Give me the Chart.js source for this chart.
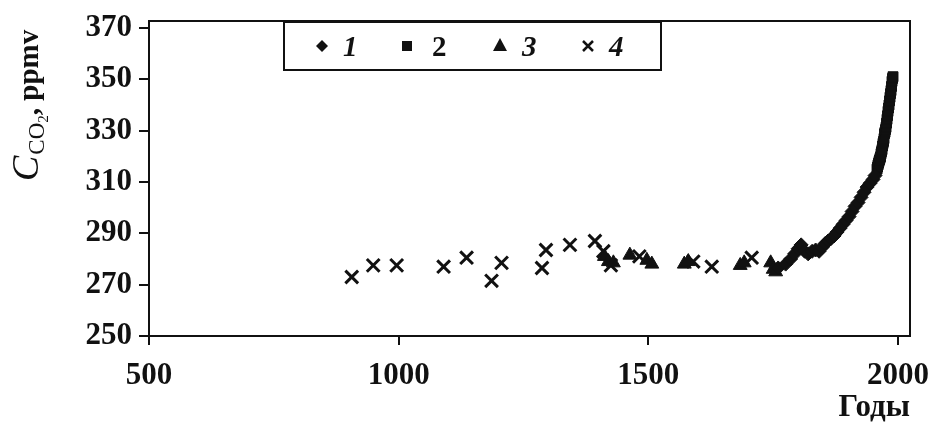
<!DOCTYPE html>
<html><head><meta charset="utf-8">
<script src="https://cdn.jsdelivr.net/npm/chart.js@4.4.0/dist/chart.umd.min.js"></script>
<style>html,body{margin:0;padding:0;background:#fff;overflow:hidden}canvas{display:block}</style>
</head><body>
<canvas id="c" width="933" height="427"></canvas>
<script>
// ---- data ----
const xTicks = [500, 1000, 1500, 2000];
const yTicks = [250, 270, 290, 310, 330, 350, 370];
const legendLabels = ['1', '2', '3', '4'];
const xTitle = 'Годы';

const s1Years  = [1760, 1775, 1785, 1793, 1800, 1806, 1813, 1820, 1828, 1835, 1842, 1848, 1854, 1860, 1866, 1872, 1878, 1884, 1890, 1896, 1902, 1908, 1914, 1920, 1926, 1932, 1938, 1944, 1950, 1954];
const s1Values = [276.5, 278, 280, 282, 284, 285.5, 283, 282, 283, 283.5, 283, 284.5, 286, 287, 288, 289, 290.5, 292, 293.5, 295, 296.5, 298.5, 300.5, 302, 304, 306, 308, 309.5, 311, 312.5];

const s2Years  = [1958, 1959, 1960, 1961, 1962, 1963, 1964, 1965, 1966, 1967, 1968, 1969, 1970, 1971, 1972, 1973, 1974, 1975, 1976, 1977, 1978, 1979, 1980, 1981, 1982, 1983, 1984, 1985, 1986, 1987, 1988, 1989, 1990];
const s2Values = [315, 315.8, 316.6, 317.3, 318, 318.6, 319.2, 319.8, 321, 321.8, 322.6, 324, 325, 325.8, 326.9, 328.8, 329.4, 330.4, 331.3, 332.9, 334.4, 335.8, 337.5, 338.8, 340, 341.6, 343, 344.4, 345.6, 347.2, 349.2, 350.3, 351];

const s3Years  = [1412, 1420, 1430, 1463, 1497, 1507, 1572, 1580, 1684, 1692, 1745, 1750, 1755];
const s3Values = [281, 279, 278.5, 281.5, 279.5, 278, 278, 279, 277.5, 278.5, 278.5, 276, 275];

const s4Years  = [906, 949, 996, 1090, 1136, 1186, 1206, 1287, 1295, 1343, 1393, 1410, 1425, 1482, 1590, 1627, 1707];
const s4Values = [273, 277.5, 277.5, 277, 280.5, 271.5, 278.5, 276.5, 283.5, 285.5, 287, 283, 277.5, 281, 279, 277, 280.5];

// ---- helpers ----
function pts(xs, ys) { return xs.map((x, i) => ({x: x, y: ys[i]})); }
const SERIF = '"Liberation Serif", "Times New Roman", serif';

const frameAndLegend = {
  id: 'frameAndLegend',
  afterDraw(chart) {
    const ctx = chart.ctx, a = chart.chartArea;
    ctx.save();
    ctx.strokeStyle = '#111';
    ctx.lineWidth = 2;
    ctx.strokeRect(a.left, a.top, a.right - a.left, a.bottom - a.top);

    // legend box
    ctx.strokeRect(284, 22, 377, 48);
    const ly = 46;
    const markX = [322, 407, 500, 588];
    const textX = [343, 432, 522, 609];
    chart.data.datasets.forEach((ds, i) => {
      ctx.fillStyle = '#111'; ctx.strokeStyle = '#111';
      const x = markX[i];
      ctx.beginPath();
      if (ds.pointStyle === 'rectRot') {
        ctx.moveTo(x, ly - 6); ctx.lineTo(x + 6, ly); ctx.lineTo(x, ly + 6); ctx.lineTo(x - 6, ly); ctx.closePath(); ctx.fill();
      } else if (ds.pointStyle === 'rect') {
        ctx.fillRect(x - 5, ly - 5, 10, 10);
      } else if (ds.pointStyle === 'triangle') {
        ctx.moveTo(x, ly - 8); ctx.lineTo(x + 7, ly + 5); ctx.lineTo(x - 7, ly + 5); ctx.closePath(); ctx.fill();
      } else {
        ctx.lineWidth = 2.5;
        ctx.moveTo(x - 5, ly - 5); ctx.lineTo(x + 5, ly + 5);
        ctx.moveTo(x + 5, ly - 5); ctx.lineTo(x - 5, ly + 5); ctx.stroke();
      }
      ctx.font = (i === 1 ? 'bold ' : 'italic bold ') + '29px ' + SERIF;
      ctx.textBaseline = 'alphabetic';
      ctx.textAlign = 'left';
      ctx.fillText(legendLabels[i], textX[i], ly + 10);
    });

    // y axis title  C_CO2, ppmv  (rotated)
    ctx.translate(40, 181);
    ctx.rotate(-Math.PI / 2);
    let cx = 0;
    ctx.textAlign = 'left';
    ctx.textBaseline = 'alphabetic';
    ctx.font = 'italic 38px ' + SERIF;
    ctx.fillText('C', cx, -2); cx += ctx.measureText('C').width + 1;
    ctx.font = '23px ' + SERIF;
    ctx.fillText('CO', cx, 4); cx += ctx.measureText('CO').width;
    ctx.font = '15px ' + SERIF;
    ctx.fillText('2', cx, 8); cx += ctx.measureText('2').width;
    ctx.font = 'bold 29px ' + SERIF;
    ctx.fillText(', ppmv', cx, -2);
    ctx.restore();
  }
};

new Chart(document.getElementById('c'), {
  type: 'scatter',
  data: {
    datasets: [
      {label: legendLabels[0], data: pts(s1Years, s1Values), pointStyle: 'rectRot', pointRadius: 7, backgroundColor: '#111', borderColor: '#111', borderWidth: 1},
      {label: legendLabels[1], data: pts(s2Years, s2Values), pointStyle: 'rect', pointRadius: 7, backgroundColor: '#111', borderColor: '#111', borderWidth: 1},
      {label: legendLabels[2], data: pts(s3Years, s3Values), pointStyle: 'triangle', pointRadius: 8, backgroundColor: '#111', borderColor: '#111', borderWidth: 1},
      {label: legendLabels[3], data: pts(s4Years, s4Values), pointStyle: 'crossRot', pointRadius: 9, backgroundColor: '#111', borderColor: '#111', borderWidth: 3}
    ]
  },
  options: {
    responsive: false,
    animation: false,
    devicePixelRatio: 1,
    layout: {padding: {left: 0, right: 23, top: 21, bottom: 0}},
    plugins: {legend: {display: false}, tooltip: {enabled: false}},
    scales: {
      x: {
        type: 'linear', min: 500, max: 2024,
        afterBuildTicks: s => { s.ticks = xTicks.map(v => ({value: v})); },
        afterFit: s => { s.height = 91; s.paddingLeft = 0; s.paddingRight = 0; },
        grid: {drawOnChartArea: false, drawTicks: true, tickLength: 9, color: '#111', lineWidth: 2},
        border: {display: true, color: '#111', width: 2},
        ticks: {color: '#111', padding: 12, maxRotation: 0, font: {family: SERIF, size: 31, weight: 'bold'}, callback: v => String(v)},
        title: {display: true, text: xTitle, align: 'end', color: '#111', padding: {top: 5, bottom: 0}, font: {family: SERIF, size: 31, weight: 'bold'}}
      },
      y: {
        type: 'linear', min: 250, max: 372.7,
        afterBuildTicks: s => { s.ticks = yTicks.map(v => ({value: v})); },
        afterFit: s => { s.width = 149; s.paddingTop = 0; s.paddingBottom = 0; },
        grid: {drawOnChartArea: false, drawTicks: true, tickLength: 10, color: '#111', lineWidth: 2},
        border: {display: true, color: '#111', width: 2},
        ticks: {color: '#111', padding: 7, font: {family: SERIF, size: 31, weight: 'bold'}, callback: v => String(v)}
      }
    }
  },
  plugins: [frameAndLegend]
});
</script>
</body></html>
